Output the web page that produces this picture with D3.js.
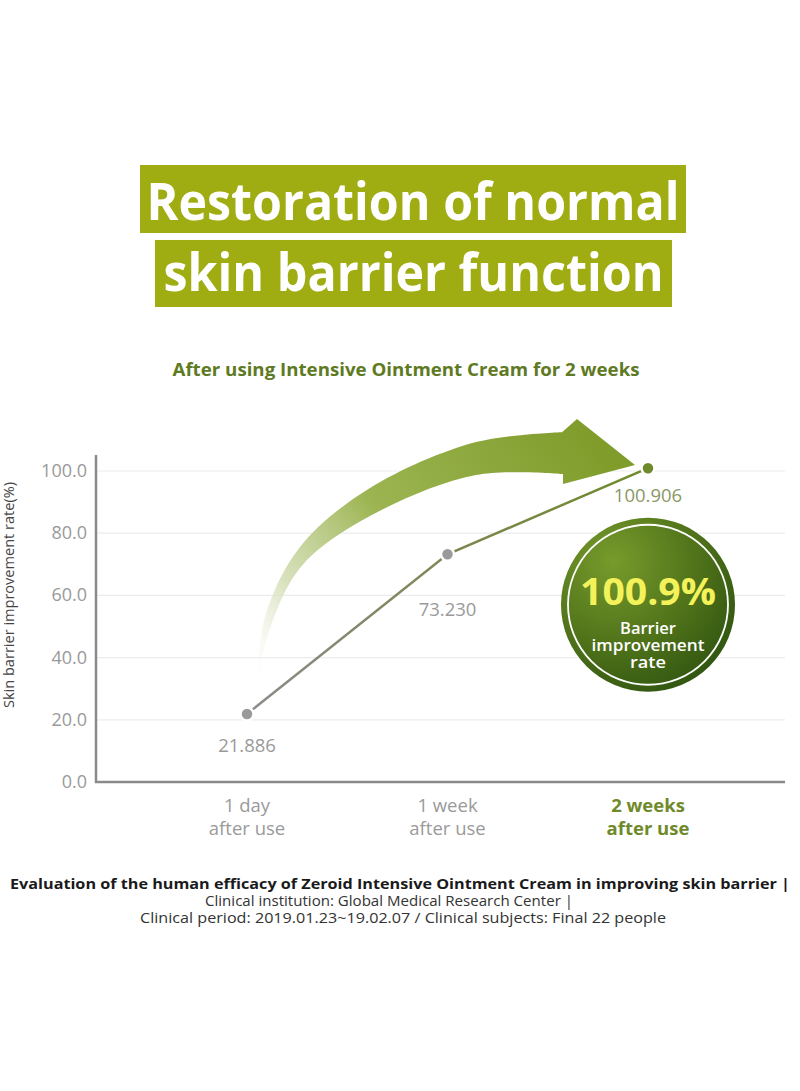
<!DOCTYPE html>
<html>
<head>
<meta charset="utf-8">
<script src="https://cdn.jsdelivr.net/npm/d3@7"></script>
<style>
  html, body { margin: 0; padding: 0; background: #fff; }
  svg { display: block; }
</style>
</head>
<body>
<div id="chart"></div>
<script>
// ---- data ----
const titleLines = ["Restoration of normal", "skin barrier function"];
const subtitle = "After using Intensive Ointment Cream for 2 weeks";
const categories = ["1 day", "1 week", "2 weeks"];
const categorySub = ["after use", "after use", "after use"];
const values = [21.886, 73.230, 100.906];
const valueLabels = ["21.886", "73.230", "100.906"];
const yTicks = [0, 20, 40, 60, 80, 100];
const yTickLabels = ["0.0", "20.0", "40.0", "60.0", "80.0", "100.0"];
const yAxisTitle = "Skin barrier improvement rate(%)";
const badgeValue = "100.9%";
const badgeLines = ["Barrier", "improvement", "rate"];
const footerLines = [
  "Evaluation of the human efficacy of Zeroid Intensive Ointment Cream in improving skin barrier |",
  "Clinical institution: Global Medical Research Center |",
  "Clinical period: 2019.01.23~19.02.07 / Clinical subjects: Final 22 people"
];

const W = 800, H = 1091;
const svg = d3.select("#chart").append("svg").attr("width", W).attr("height", H);
const defs = svg.append("defs");

const olive = "#a0ad12";
const darkOlive = "#5e7a22";
const grayTxt = "#9a9a9a";
const font = "'Open Sans', 'Noto Sans', sans-serif";

// ---- title boxes ----
const boxes = [
  {x: 140, y: 165, w: 546, h: 68, base: 220, tl: 533},
  {x: 155, y: 240, w: 517, h: 67, base: 291, tl: 500}
];
boxes.forEach((b, i) => {
  svg.append("rect").attr("x", b.x).attr("y", b.y).attr("width", b.w).attr("height", b.h).attr("fill", olive);
  svg.append("text").attr("x", b.x + b.w / 2).attr("y", b.base)
    .attr("text-anchor", "middle").attr("fill", "#fff")
    .attr("font-family", font).attr("font-weight", 700).attr("font-size", 52)
    .attr("textLength", b.tl).attr("lengthAdjust", "spacingAndGlyphs")
    .text(titleLines[i]);
});

svg.append("text").attr("x", 406).attr("y", 376).attr("text-anchor", "middle")
  .attr("fill", darkOlive).attr("font-family", font).attr("font-weight", 700)
  .attr("font-size", 17).attr("textLength", 467).attr("lengthAdjust", "spacingAndGlyphs")
  .text(subtitle);

// ---- scales ----
const x = d3.scalePoint().domain(categories).range([247, 648]);
const y = d3.scaleLinear().domain([0, 100]).range([782, 471]);
const axisLeftX = 96, axisRightX = 785;

// gridlines
svg.append("g").selectAll("line").data(yTicks.filter(t => t > 0)).join("line")
  .attr("x1", axisLeftX).attr("x2", axisRightX)
  .attr("y1", d => y(d)).attr("y2", d => y(d))
  .attr("stroke", "#ececec").attr("stroke-width", 1.2);

// y tick labels
svg.append("g").selectAll("text").data(yTicks).join("text")
  .attr("x", 87).attr("y", d => y(d) + 6)
  .attr("text-anchor", "end").attr("fill", grayTxt)
  .attr("font-family", font).attr("font-size", 18)
  .text((d, i) => yTickLabels[i]);

// axes lines
svg.append("line").attr("x1", axisLeftX).attr("x2", axisLeftX).attr("y1", 455).attr("y2", y(0) + 1)
  .attr("stroke", "#8a8a8a").attr("stroke-width", 2.5);
svg.append("line").attr("x1", axisLeftX - 1).attr("x2", axisRightX).attr("y1", y(0)).attr("y2", y(0))
  .attr("stroke", "#8a8a8a").attr("stroke-width", 2.5);

// y axis title
svg.append("text").attr("transform", `translate(14,${595}) rotate(-90)`)
  .attr("text-anchor", "middle").attr("fill", "#444")
  .attr("font-family", font).attr("font-size", 14.5)
  .attr("textLength", 226).attr("lengthAdjust", "spacingAndGlyphs")
  .text(yAxisTitle);

// ---- big curved arrow (decoration, anchored on scales) ----
const ag = defs.append("linearGradient").attr("id", "arrowGrad")
  .attr("gradientUnits", "userSpaceOnUse")
  .attr("x1", x(categories[0]) + 5).attr("y1", y(28)).attr("x2", x(categories[2]) - 60).attr("y2", y(110));
ag.append("stop").attr("offset", "0").attr("stop-color", "#ffffff").attr("stop-opacity", 0);
ag.append("stop").attr("offset", "0.22").attr("stop-color", "#d3ddb4").attr("stop-opacity", 0.85);
ag.append("stop").attr("offset", "0.5").attr("stop-color", "#9cb552");
ag.append("stop").attr("offset", "1").attr("stop-color", "#809d2c");

const x0 = x(categories[0]);
const P = (dx, v) => [x0 + dx, y(v)];
const outer = [P(10, 29.6), P(18, 53.1), P(53, 75.6), P(123, 94.5), P(229, 109.3), P(315, 112.5)];
const head = [P(330, 116.7), P(388, 101.9), P(316, 95.8), P(316, 99.0)];
const inner = [P(316, 99.0), P(229, 98.7), P(123, 85.5), P(53, 68.8), P(18, 44.1), P(11, 29.6)];
const curve = d3.line().curve(d3.curveCatmullRom.alpha(0.5));
const arrowPath = curve(outer) + head.map(p => "L" + p.join(",")).join("") +
  curve(inner).replace(/^M/, "L") + "Z";
svg.append("path").attr("d", arrowPath).attr("fill", "url(#arrowGrad)");

// ---- line ----
const lg = defs.append("linearGradient").attr("id", "lineGrad")
  .attr("gradientUnits", "userSpaceOnUse")
  .attr("x1", x(categories[0])).attr("y1", 0).attr("x2", x(categories[2])).attr("y2", 0);
lg.append("stop").attr("offset", "0").attr("stop-color", "#8c8c8c");
lg.append("stop").attr("offset", "0.5").attr("stop-color", "#7d8752");
lg.append("stop").attr("offset", "1").attr("stop-color", "#6f8a2a");

const pts = categories.map((c, i) => ({c, v: values[i], label: valueLabels[i]}));
svg.append("path").datum(pts)
  .attr("d", d3.line().x(d => x(d.c)).y(d => y(d.v)))
  .attr("fill", "none").attr("stroke", "url(#lineGrad)").attr("stroke-width", 2.5);

svg.append("g").selectAll("circle").data(pts).join("circle")
  .attr("cx", d => x(d.c)).attr("cy", d => y(d.v)).attr("r", 6.5)
  .attr("fill", (d, i) => i === 2 ? "#6f8a2a" : "#9a9a9a")
  .attr("stroke", "#fff").attr("stroke-width", 2.5);

// value labels
const labelOffsets = [38, 62, 34];
svg.append("g").selectAll("text").data(pts).join("text")
  .attr("x", d => x(d.c)).attr("y", (d, i) => y(d.v) + labelOffsets[i])
  .attr("text-anchor", "middle")
  .attr("fill", (d, i) => i === 2 ? "#8a9866" : grayTxt)
  .attr("font-family", font).attr("font-size", 18.5)
  .text(d => d.label);

// ---- badge ----
const bc = [x(categories[2]), y(57)];
const rg = defs.append("radialGradient").attr("id", "badgeGrad")
  .attr("cx", "30%").attr("cy", "25%").attr("r", "85%");
rg.append("stop").attr("offset", "0").attr("stop-color", "#789b2c");
rg.append("stop").attr("offset", "0.6").attr("stop-color", "#4d7019");
rg.append("stop").attr("offset", "1").attr("stop-color", "#2f5410");
const badge = svg.append("g").attr("transform", `translate(${bc[0]},${bc[1]})`);
badge.append("circle").attr("r", 87).attr("fill", "url(#badgeGrad)");
badge.append("circle").attr("r", 80).attr("fill", "none").attr("stroke", "#fff").attr("stroke-width", 1.8);
badge.append("text").attr("y", 0).attr("text-anchor", "middle")
  .attr("fill", "#f4f25a").attr("font-family", font).attr("font-weight", 700)
  .attr("font-size", 37).attr("textLength", 136).attr("lengthAdjust", "spacingAndGlyphs")
  .text(badgeValue);
const bl = [{t: badgeLines[0], yy: 29, tl: 56}, {t: badgeLines[1], yy: 46, tl: 113}, {t: badgeLines[2], yy: 63, tl: 36}];
bl.forEach(d => {
  badge.append("text").attr("y", d.yy).attr("text-anchor", "middle")
    .attr("fill", "#fff").attr("font-family", font).attr("font-weight", 600)
    .attr("font-size", 16).attr("textLength", d.tl).attr("lengthAdjust", "spacingAndGlyphs")
    .text(d.t);
});

// ---- category labels ----
const catG = svg.append("g");
categories.forEach((c, i) => {
  const bold = i === 2;
  const t = catG.append("text").attr("text-anchor", "middle")
    .attr("fill", bold ? "#6f8a2a" : grayTxt)
    .attr("font-family", font).attr("font-weight", bold ? 700 : 400).attr("font-size", 18.5);
  t.append("tspan").attr("x", x(c)).attr("y", 812).text(c);
  t.append("tspan").attr("x", x(c)).attr("y", 835).text(categorySub[i]);
});

// ---- footer ----
const fl = [{y: 889, w: 780, b: true, cx: 400}, {y: 906, w: 368, b: false, cx: 389}, {y: 923, w: 526, b: false, cx: 403}];
footerLines.forEach((t, i) => {
  svg.append("text").attr("x", fl[i].cx).attr("y", fl[i].y).attr("text-anchor", "middle")
    .attr("fill", fl[i].b ? "#1a1a1a" : "#333")
    .attr("font-family", font).attr("font-weight", fl[i].b ? 700 : 400)
    .attr("font-size", 14.5).attr("textLength", fl[i].w).attr("lengthAdjust", "spacingAndGlyphs")
    .text(t);
});
</script>
</body>
</html>
